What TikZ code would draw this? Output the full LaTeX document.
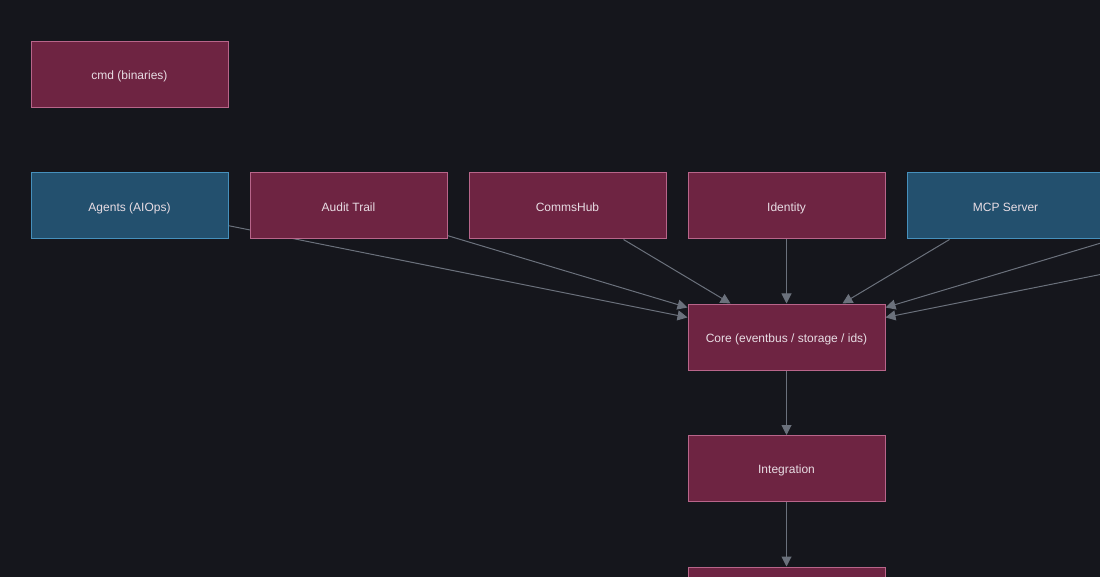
\documentclass[tikz,border=0pt]{standalone}
\usepackage{fontspec}
\setmainfont{Liberation Sans}
\usetikzlibrary{arrows.meta,backgrounds}
\definecolor{canvas}{HTML}{15161C}
\definecolor{redfill}{HTML}{6E2442}
\definecolor{reddraw}{HTML}{B8658A}
\definecolor{bluefill}{HTML}{23506E}
\definecolor{bluedraw}{HTML}{4690BC}
\definecolor{edgegray}{HTML}{6B717C}
\definecolor{labeltext}{HTML}{E8DDE4}

\begin{document}
\begin{tikzpicture}[x=1pt,y=-1pt]
\tikzset{
  pkgnode/.style={rectangle,draw=reddraw,fill=redfill,line width=1pt,minimum width=197pt,minimum height=66pt,inner sep=0pt,text height=10.5pt,text depth=0.2pt,text=labeltext,font=\fontsize{12}{14}\selectfont},
  svcnode/.style={pkgnode,draw=bluedraw,fill=bluefill},
  depends/.style={-{Triangle[length=10pt,width=10pt]},edgegray,line width=1pt}
}
\useasboundingbox (0,0) rectangle (1100,577);
\clip (0,0) rectangle (1100,577);
\node[pkgnode] (n_cmd) at (129.5,74.5) {cmd (binaries)};
\node[svcnode] (n_agents) at (129.5,206) {Agents (AIOps)};
\node[pkgnode] (n_audit) at (348.5,206) {Audit Trail};
\node[pkgnode] (n_comms) at (567.5,206) {CommsHub};
\node[pkgnode] (n_identity) at (786.5,206) {Identity};
\node[svcnode] (n_mcp) at (1005.5,206) {MCP Server};
\node[pkgnode] (n_core) at (786.5,337) {Core (eventbus / storage / ids)};
\node[pkgnode] (n_integ) at (786.5,468.5) {Integration};
\node[pkgnode] (n_below) at (786.5,600) {};
\coordinate (c_right1) at (1224.5,206);
\coordinate (c_right2) at (1443.5,206);
\begin{pgfonlayer}{background}
\fill[canvas] (0,0) rectangle (1100,577);
\clip (0,0) rectangle (1100,577);
\draw[depends] (n_agents) -- (n_core);
\draw[depends] (n_audit) -- (n_core);
\draw[depends] (n_comms) -- (n_core);
\draw[depends] (n_identity) -- (n_core);
\draw[depends] (n_mcp) -- (n_core);
\draw[depends] (c_right1) -- (n_core);
\draw[depends] (c_right2) -- (n_core);
\draw[depends] (n_core) -- (n_integ);
\draw[depends] (n_integ) -- (n_below);
\end{pgfonlayer}
\end{tikzpicture}
\end{document}
